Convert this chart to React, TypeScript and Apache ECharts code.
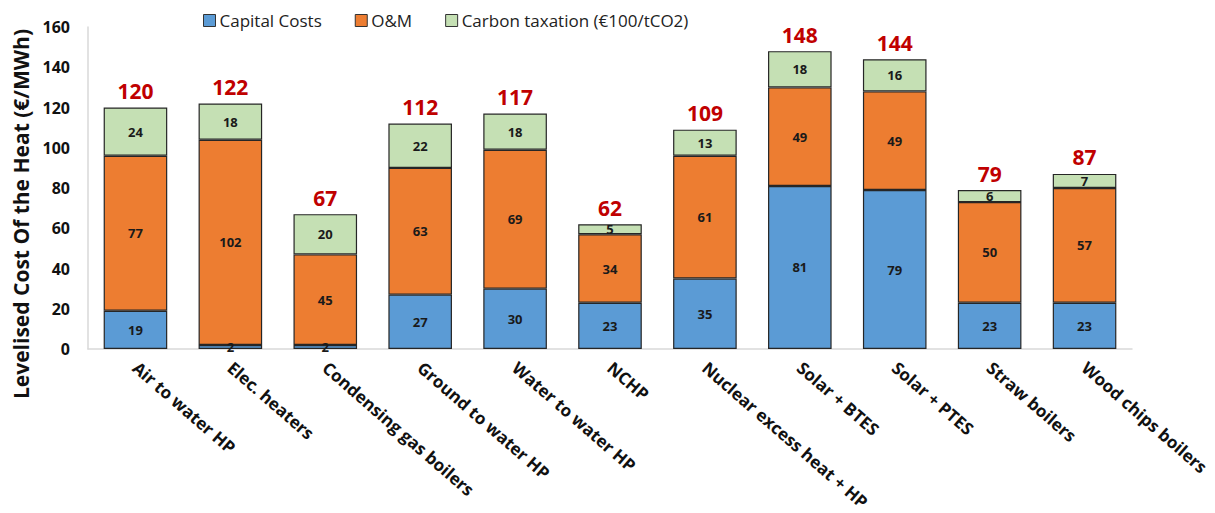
import React, { useEffect, useRef } from "react";
import * as echarts from "echarts";

const categories = [
  "Air to water HP",
  "Elec. heaters",
  "Condensing gas boilers",
  "Ground to water HP",
  "Water to water HP",
  "NCHP",
  "Nuclear excess heat + HP",
  "Solar + BTES",
  "Solar + PTES",
  "Straw boilers",
  "Wood chips boilers",
];
const capitalCosts = [19, 2, 2, 27, 30, 23, 35, 81, 79, 23, 23];
const omCosts = [77, 102, 45, 63, 69, 34, 61, 49, 49, 50, 57];
const carbonTax = [24, 18, 20, 22, 18, 5, 13, 18, 16, 6, 7];
const totals = [120, 122, 67, 112, 117, 62, 109, 148, 144, 79, 87];
const yTicks = [0, 20, 40, 60, 80, 100, 120, 140, 160];
const yTitle = "Levelised Cost Of the Heat (€/MWh)";

const FONT = "'Open Sans', 'Noto Sans', sans-serif";

export default function App() {
  const ref = useRef<HTMLDivElement>(null);
  useEffect(() => {
    if (!ref.current) return;
    const chart = echarts.init(ref.current, null, { renderer: "svg" });
    const inner = {
      show: true,
      position: "inside",
      color: "#1a1a1a",
      fontWeight: "bold",
      fontSize: 13,
      fontFamily: FONT,
    };
    const border = { borderColor: "#262626", borderWidth: 1.2 };
    chart.setOption({
      animation: false,
      textStyle: { fontFamily: FONT },
      legend: {
        data: ["Capital Costs", "O&M", "Carbon taxation (€100/tCO2)"],
        left: 198,
        top: 7,
        icon: "rect",
        itemWidth: 12,
        itemHeight: 12,
        itemGap: 33,
        itemStyle: { borderColor: "#333", borderWidth: 1 },
        textStyle: { fontSize: 17, color: "#222", fontFamily: FONT, padding: [0, 0, 0, -1] },
      },
      graphic: [
        {
          type: "text",
          x: 21,
          y: 214,
          rotation: Math.PI / 2,
          style: {
            text: yTitle,
            fontSize: 21,
            fontWeight: "bold",
            fill: "#111",
            fontFamily: FONT,
            align: "center",
            verticalAlign: "middle",
          },
        },
      ],
      grid: { left: 88, right: 83, top: 27, bottom: 164, containLabel: false },
      xAxis: {
        type: "category",
        data: categories,
        axisLine: { show: true, lineStyle: { color: "#d9d9d9", width: 1.5 } },
        axisTick: { show: false },
        axisLabel: {
          rotate: -41,
          margin: 16,
          interval: 0,
          fontSize: 17,
          fontWeight: "bold",
          color: "#111",
          fontFamily: FONT,
        },
      },
      yAxis: {
        type: "value",
        min: 0,
        max: yTicks[yTicks.length - 1],
        interval: 20,
        axisLine: { show: true, lineStyle: { color: "#d9d9d9", width: 1.5 } },
        axisTick: { show: false },
        splitLine: { show: false },
        axisLabel: {
          fontSize: 16,
          fontWeight: "bold",
          color: "#111",
          margin: 18,
          fontFamily: FONT,
        },
      },
      series: [
        {
          name: "Capital Costs",
          type: "bar",
          stack: "total",
          barWidth: "67%",
          data: capitalCosts,
          itemStyle: { color: "#5B9BD5", ...border },
          label: inner,
        },
        {
          name: "O&M",
          type: "bar",
          stack: "total",
          data: omCosts,
          itemStyle: { color: "#ED7D31", ...border },
          label: inner,
        },
        {
          name: "Carbon taxation (€100/tCO2)",
          type: "bar",
          stack: "total",
          data: carbonTax,
          itemStyle: { color: "#C5E0B4", ...border },
          label: inner,
        },
        {
          name: "Total",
          type: "bar",
          barWidth: "67%",
          barGap: "-100%",
          data: totals,
          silent: true,
          z: 0,
          itemStyle: { color: "rgba(0,0,0,0)" },
          label: {
            show: true,
            position: "top",
            distance: 6,
            color: "#C00000",
            fontWeight: "bold",
            fontSize: 21,
            fontFamily: FONT,
          },
        },
      ],
    });
    return () => chart.dispose();
  }, []);
  return (
    <div
      ref={ref}
      style={{ position: "fixed", left: 0, top: 0, width: 1215, height: 513, background: "#fff" }}
    />
  );
}
